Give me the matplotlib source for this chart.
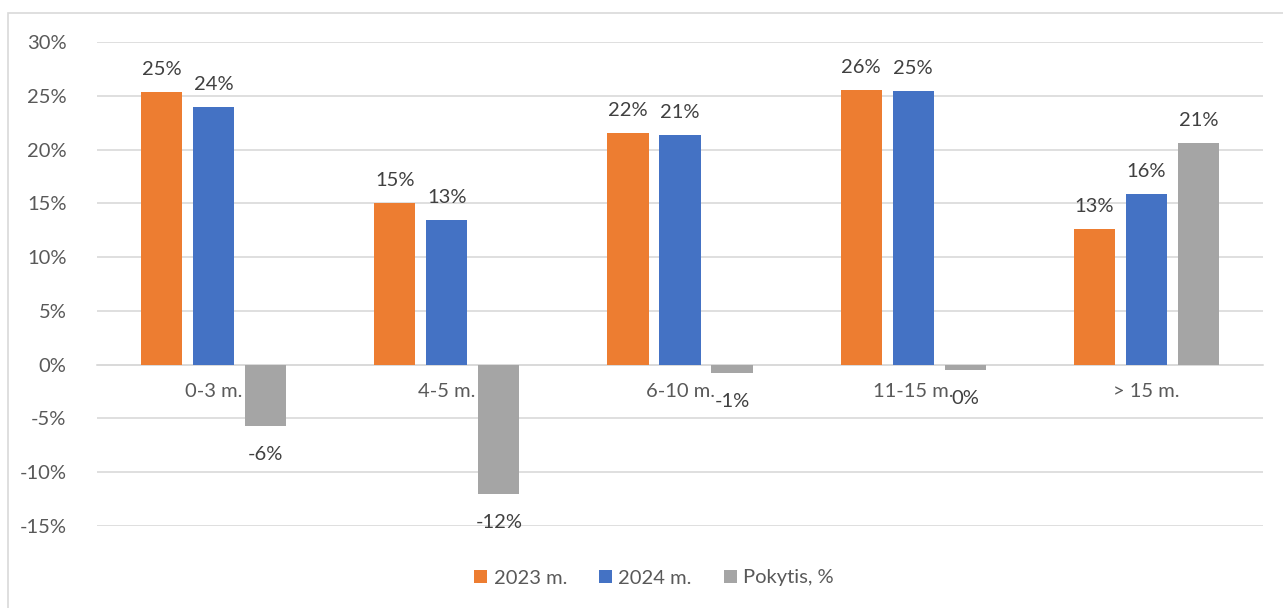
import numpy as np
import matplotlib.pyplot as plt
from matplotlib.patches import Rectangle

categories = ['0-3 m.', '4-5 m.', '6-10 m.', '11-15 m.', '> 15 m.']
y2023 = [0.2535, 0.1504, 0.2154, 0.2553, 0.1263]
y2024 = [0.2396, 0.1346, 0.2136, 0.2544, 0.1588]
pokytis = [-0.0566, -0.1198, -0.0074, -0.0046, 0.2061]

series = [('2023 m.', y2023, '#ED7D31'),
          ('2024 m.', y2024, '#4472C4'),
          ('Pokytis, %', pokytis, '#A5A5A5')]

plt.rcParams['font.family'] = ['Lato', 'DejaVu Sans']
txt = '#595959'
fs = 14.5

fig = plt.figure(figsize=(12.83, 6.08), dpi=100)
ax = fig.add_axes([97 / 1283, 1 - 526 / 608, (1263 - 97) / 1283, (526 - 42) / 608])

x = np.arange(len(categories))
w = 0.176
step = 0.223


def fmt(v):
    s = '{:.0f}%'.format(round(v * 100))
    return '0%' if s == '-0%' else s


for i, (name, vals, col) in enumerate(series):
    pos = x + (i - 1) * step
    ax.bar(pos, vals, width=w, color=col, label=name, zorder=3)
    for p, v in zip(pos, vals):
        if v >= 0:
            ax.annotate(fmt(v), (p, v), xytext=(0, 10), textcoords='offset points',
                        ha='center', va='bottom', fontsize=fs, color='#404040')
        else:
            ax.annotate(fmt(v), (p, v), xytext=(0, -15), textcoords='offset points',
                        ha='center', va='top', fontsize=fs, color='#404040')

ax.set_xlim(-0.5, 4.5)
ax.set_ylim(-0.15, 0.30)
ax.set_yticks(np.arange(-0.15, 0.31, 0.05))
ax.set_yticklabels([fmt(v) for v in np.arange(-0.15, 0.31, 0.05)])
ax.set_xticks(x)
ax.set_xticklabels(categories)
ax.grid(axis='y', color='#D9D9D9', linewidth=1.2, zorder=0)
for s in ['top', 'right', 'left']:
    ax.spines[s].set_visible(False)
ax.spines['bottom'].set_position(('data', 0))
ax.spines['bottom'].set_color('#D9D9D9')
ax.spines['bottom'].set_linewidth(1.2)
ax.tick_params(axis='x', length=0, pad=13, labelsize=fs, labelcolor=txt)
ax.tick_params(axis='y', length=0, pad=22, labelsize=fs, labelcolor=txt)

leg = fig.legend(loc='center', bbox_to_anchor=(654 / 1283, 1 - 578 / 608), ncol=3, frameon=False,
                 fontsize=fs, handlelength=0.65, handleheight=0.65, handletextpad=0.3,
                 columnspacing=1.6)
for t in leg.get_texts():
    t.set_color(txt)

fig.patches.append(Rectangle((8 / 1283, -0.1), 1.2, 1.1 - 13 / 608, transform=fig.transFigure,
                             fill=False, edgecolor='#D9D9D9', linewidth=1.2))

fig.savefig('out.png', dpi=100)
